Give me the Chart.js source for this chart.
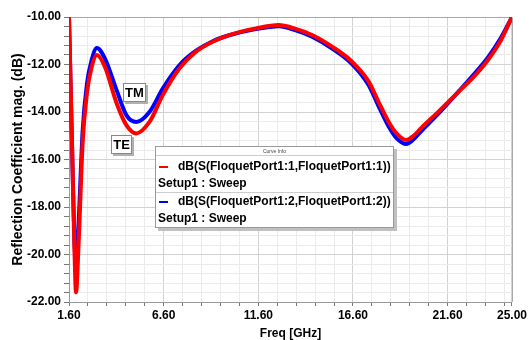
<!DOCTYPE html>
<html>
<head>
<meta charset="utf-8">
<script src="https://cdn.jsdelivr.net/npm/chart.js@4"></script>
<style>
  body { margin: 0; background: #fff; }
  #wrap { position: relative; width: 529px; height: 340px; overflow: hidden; font-family: "Liberation Sans", Arial, sans-serif; }
  #chart { position: absolute; left: 0; top: 0; }
  .tag { position: absolute; background: #fff; border: 1px solid #888; box-shadow: 2px 2px 0 #b0b0b0;
         font-weight: bold; font-size: 13px; text-align: center; color: #000; }
  #legend { position: absolute; left: 155px; top: 146px; width: 237px; height: 80px; background: #fff;
            border: 1px solid #999; box-shadow: 3px 3px 0 #c0c0c0; color: #000; }
  #legend .cap { font-size: 5px; text-align: center; height: 8px; line-height: 8px; border-bottom: 1px solid #ccc; color: #444; }
  #legend .row { font-weight: bold; font-size: 12px; height: 17px; line-height: 17px; white-space: nowrap; padding-left: 2px; }
  #legend .sep { border-top: 1px solid #ccc; }
  #legend .dash { display: inline-block; width: 9px; height: 2px; vertical-align: middle; margin: 0 10px 0 1px; }
</style>
</head>
<body>
<div id="wrap">
  <canvas id="chart" width="529" height="340"></canvas>
  <div class="tag" style="left:123px; top:83px; width:21px; height:17px; line-height:17px;">TM</div>
  <div class="tag" style="left:111px; top:135px; width:19px; height:17px; line-height:17px;">TE</div>
  <div id="legend">
    <div class="cap">Curve Info</div>
    <div class="row" style="margin-top:2px;"><span class="dash" style="background:#ff0000"></span>dB(S(FloquetPort1:1,FloquetPort1:1))</div>
    <div class="row">Setup1 : Sweep</div>
    <div class="row sep"><span class="dash" style="background:#0000ff"></span>dB(S(FloquetPort1:2,FloquetPort1:2))</div>
    <div class="row">Setup1 : Sweep</div>
  </div>
</div>
<script>
// frequency samples (GHz)
const freqs = [1.6, 1.76, 1.88, 1.97, 2.11, 2.32, 2.55, 2.8, 3.07, 3.5, 4.11, 4.63, 5.16, 5.86, 6.56, 7.44,
  8.31, 9.19, 10.06, 11.47, 12.69, 13.5, 14.44, 15.5, 16.55, 17.43, 17.95, 18.48, 18.9, 19.42, 19.8,
  20.21, 21.1, 22.16, 23.0, 23.73, 24.4, 25.0];

// dB(S(FloquetPort1:1,FloquetPort1:1)) - TE
const port1 = [-10.0, -15.3, -19.5, -21.6, -19.5, -15.3, -13.2, -12.1, -11.6, -12.1, -13.62, -14.55, -14.9, -14.41, -13.28, -12.16,
  -11.46, -11.04, -10.76, -10.48, -10.34, -10.48, -10.76, -11.25, -11.88, -12.72, -13.57, -14.41, -14.9, -15.18, -15.0,
  -14.67, -14.0, -13.16, -12.5, -11.81, -11.0, -10.0];

// dB(S(FloquetPort1:2,FloquetPort1:2)) - TM
const port2 = [-10.0, -15.4, -19.3, -20.3, -18.6, -14.8, -12.8, -11.8, -11.3, -11.75, -13.07, -14.13, -14.42, -13.99, -13.0, -12.02,
  -11.42, -11.02, -10.77, -10.51, -10.39, -10.54, -10.83, -11.33, -11.98, -12.87, -13.75, -14.6, -15.1, -15.35, -15.15,
  -14.8, -14.08, -13.15, -12.4, -11.7, -10.9, -10.0];

const xMajor = [1.6, 6.6, 11.6, 16.6, 21.6, 25.0];
const yMajor = [-22, -20, -18, -16, -14, -12, -10];

const FONT = '"Liberation Sans", Arial, sans-serif';

function isMajor(list, v) {
  return list.some(m => Math.abs(m - v) < 1e-6);
}

// plot frame on the top and right sides
const framePlugin = {
  id: 'frame',
  beforeDatasetsDraw(chart) {
    const { ctx, chartArea: a } = chart;
    ctx.save();
    ctx.strokeStyle = '#a8a8a8';
    ctx.lineWidth = 1;
    ctx.beginPath();
    ctx.moveTo(a.left, a.top + 0.5);
    ctx.lineTo(a.right + 0.5, a.top + 0.5);
    ctx.lineTo(a.right + 0.5, a.bottom);
    ctx.stroke();
    ctx.restore();
  }
};

new Chart(document.getElementById('chart'), {
  type: 'line',
  data: {
    datasets: [
      {
        label: 'dB(S(FloquetPort1:1,FloquetPort1:1))',
        data: freqs.map((f, i) => ({ x: f, y: port1[i] })),
        borderColor: '#ff0000',
        borderWidth: 4,
        pointRadius: 0,
        cubicInterpolationMode: 'monotone',
        order: 0
      },
      {
        label: 'dB(S(FloquetPort1:2,FloquetPort1:2))',
        data: freqs.map((f, i) => ({ x: f, y: port2[i] })),
        borderColor: '#0000ff',
        borderWidth: 4,
        pointRadius: 0,
        cubicInterpolationMode: 'monotone',
        order: 1
      }
    ]
  },
  options: {
    responsive: false,
    animation: false,
    devicePixelRatio: 1,
    layout: { padding: { top: 17, right: 15, left: 0, bottom: 0 } },
    plugins: { legend: { display: false }, tooltip: { enabled: false } },
    scales: {
      x: {
        type: 'linear',
        min: 1.6,
        max: 25,
        afterBuildTicks(scale) {
          const t = [];
          for (let v = 1.6; v < 24.9; v += 1) t.push({ value: Math.round(v * 10) / 10 });
          t.push({ value: 25 });
          scale.ticks = t;
        },
        afterFit(scale) { scale.height = 38; },
        ticks: {
          autoSkip: false,
          maxRotation: 0,
          padding: 2,
          color: '#000',
          font: { family: FONT, size: 12, weight: 'bold' },
          callback: v => isMajor(xMajor, v) ? v.toFixed(2) : ''
        },
        grid: {
          color: c => isMajor(xMajor, c.tick.value) ? '#d2d2d2' : '#ebebeb',
          tickColor: '#777',
          tickLength: 4
        },
        border: { color: '#999' },
        title: {
          display: true,
          text: 'Freq [GHz]',
          color: '#000',
          font: { family: FONT, size: 12, weight: 'bold', lineHeight: 1 },
          padding: { top: 0, bottom: 0 }
        }
      },
      y: {
        min: -22,
        max: -10,
        afterBuildTicks(scale) {
          const t = [];
          for (let i = 0; i <= 30; i++) t.push({ value: Math.round((-22 + i * 0.4) * 10) / 10 });
          scale.ticks = t;
        },
        afterFit(scale) { scale.width = 69; },
        ticks: {
          autoSkip: false,
          padding: 3,
          color: '#000',
          font: { family: FONT, size: 12, weight: 'bold' },
          callback: v => isMajor(yMajor, v) ? v.toFixed(2) : ''
        },
        grid: {
          color: c => isMajor(yMajor, c.tick.value) ? '#d2d2d2' : '#ebebeb',
          tickColor: '#777',
          tickLength: 5
        },
        border: { color: '#999' },
        title: {
          display: true,
          text: 'Reflection Coefficient mag. (dB)',
          color: '#000',
          font: { family: FONT, size: 14, weight: 'bold' },
          padding: { top: 10, bottom: 0 }
        }
      }
    }
  },
  plugins: [framePlugin]
});
</script>
</body>
</html>
